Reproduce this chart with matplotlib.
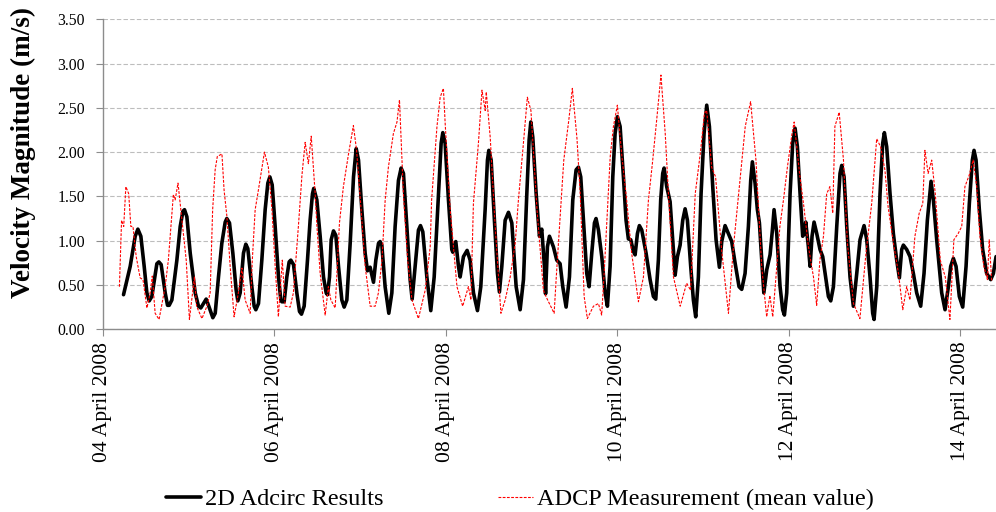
import numpy as np
import matplotlib
matplotlib.use('Agg')
import matplotlib.pyplot as plt
import matplotlib.dates as mdates

plt.rcParams['font.family'] = ['Liberation Serif', 'DejaVu Serif']

# Start of record
t0 = np.datetime64('2008-04-04T00:00')

# 2D Adcirc results: hours after t0, velocity (m/s)
adcirc_h = [5.75, 7.62, 9.01, 9.76, 10.60, 11.53, 12.28, 12.93, 13.68, 15.08, 15.64, 16.29, 17.41,
            18.06, 18.53, 19.28, 20.68, 21.61, 22.36, 22.82, 23.48, 24.41, 25.81, 26.74, 27.39,
            28.14, 28.89, 29.54, 30.75, 31.41, 32.34, 33.27, 34.21, 34.67, 35.42, 36.35, 37.28,
            37.75, 38.40, 39.34, 39.99, 40.55, 41.67, 42.32, 42.79, 43.54, 44.47, 45.40, 46.15,
            46.71, 47.36, 48.20, 49.13, 49.79, 50.07, 50.72, 51.47, 52.12, 52.59, 53.33, 54.27,
            55.01, 55.57, 56.32, 57.25, 57.99, 58.65, 59.00, 59.87, 60.80, 61.73, 62.48, 62.85,
            63.41, 63.88, 64.53, 65.18, 65.93, 66.86, 67.52, 68.26, 69.20, 70.13, 70.88, 71.53,
            72.46, 73.39, 74.05, 74.79, 75.73, 76.38, 77.13, 77.59, 78.06, 78.99, 80.02, 80.86,
            81.79, 82.72, 83.47, 84.12, 85.06, 85.99, 86.55, 87.39, 88.32, 88.88, 89.54, 90.66,
            91.77, 92.71, 93.92, 94.67, 95.13, 95.79, 96.72, 97.65, 97.93, 98.77, 99.52, 99.98,
            100.92, 101.94, 102.78, 103.72, 104.84, 105.77, 106.98, 107.64, 108.01, 108.66,
            109.59, 110.43, 110.99, 111.65, 112.58, 113.51, 114.45, 115.66, 116.78, 117.71,
            118.65, 119.30, 119.76, 120.32, 121.26, 122.19, 122.84, 123.59, 123.90, 124.42,
            124.98, 126.10, 127.04, 127.97, 128.71, 129.65, 130.58, 131.51, 132.45, 133.10,
            133.75, 134.50, 135.43, 136.09, 136.83, 137.58, 138.04, 138.70, 139.63, 140.56,
            141.22, 141.96, 142.71, 143.36, 144.02, 144.76, 145.70, 146.44, 147.09, 147.75,
            148.49, 148.96, 149.61, 150.17, 150.83, 152.04, 153.16, 154.09, 154.75, 155.49,
            156.14, 156.70, 157.08, 157.82, 158.76, 159.41, 160.16, 160.81, 161.56, 162.30,
            162.96, 163.61, 164.54, 165.29, 165.94, 166.69, 167.43, 168.27, 169.02, 169.77,
            170.70, 171.63, 172.57, 173.22, 174.15, 175.08, 176.02, 176.95, 178.07, 178.81,
            179.75, 180.68, 181.34, 181.80, 182.55, 183.20, 183.76, 184.41, 185.00, 185.82,
            186.75, 187.40, 187.87, 188.62, 189.55, 190.29, 190.76, 191.41, 192.35, 193.09,
            193.75, 194.40, 195.15, 195.89, 196.36, 196.73, 197.48, 197.95, 198.50, 199.06,
            199.81, 200.74, 201.49, 202.42, 203.08, 203.73, 204.48, 205.41, 206.34, 206.81,
            207.46, 208.21, 209.14, 210.07, 211.01, 211.94, 213.06, 213.81, 214.74, 215.49,
            215.86, 216.61, 217.54, 218.28, 218.75, 219.40, 220.34, 221.27, 222.20, 222.95,
            223.60, 224.07, 225.00, 225.94, 226.87, 227.80, 228.92, 229.85, 230.79, 231.81,
            232.47, 233.40, 234.80, 235.73, 236.66, 237.32, 238.06, 238.81, 239.74, 240.68,
            241.61, 242.54, 243.38, 243.85, 244.41, 245.34, 246.27, 247.39, 248.51, 249.26,
            250.01]
adcirc_v = [0.39, 0.71, 1.05, 1.13, 1.05, 0.71, 0.41, 0.32, 0.37, 0.74, 0.76, 0.73, 0.41,
            0.27, 0.27, 0.33, 0.78, 1.16, 1.33, 1.35, 1.27, 0.86, 0.41, 0.26, 0.24,
            0.29, 0.34, 0.27, 0.13, 0.18, 0.59, 0.97, 1.21, 1.25, 1.20, 0.86, 0.44,
            0.32, 0.41, 0.86, 0.96, 0.91, 0.48, 0.26, 0.22, 0.29, 0.78, 1.35, 1.65,
            1.72, 1.63, 1.16, 0.59, 0.33, 0.31, 0.31, 0.59, 0.76, 0.78, 0.73, 0.41,
            0.20, 0.17, 0.26, 0.78, 1.23, 1.53, 1.59, 1.46, 1.05, 0.59, 0.41, 0.39,
            0.59, 1.01, 1.11, 1.06, 0.71, 0.33, 0.25, 0.33, 0.97, 1.72, 2.04, 1.91,
            1.35, 0.86, 0.66, 0.70, 0.53, 0.78, 0.97, 0.99, 0.95, 0.48, 0.18, 0.41,
            1.16, 1.68, 1.82, 1.76, 1.16, 0.56, 0.34, 0.71, 1.12, 1.17, 1.10, 0.59,
            0.21, 0.59, 1.53, 2.10, 2.22, 2.10, 1.46, 0.90, 0.87, 0.99, 0.71, 0.59,
            0.82, 0.89, 0.78, 0.41, 0.21, 0.48, 1.35, 1.91, 2.02, 1.91,
            1.23, 0.63, 0.42, 0.71, 1.23, 1.32, 1.20, 0.48, 0.22, 0.56,
            1.53, 2.14, 2.34, 2.17, 1.53, 1.05, 1.13, 0.71, 0.40, 0.93,
            1.05, 0.93, 0.78, 0.74, 0.48, 0.25, 0.59, 1.46, 1.80, 1.83,
            1.72, 1.23, 0.63, 0.48, 0.86, 1.20, 1.25, 1.12, 0.82, 0.41,
            0.26, 0.71, 1.72, 2.21, 2.40, 2.29, 1.72, 1.23, 1.02, 1.01,
            0.88, 0.84, 1.08, 1.17, 1.12, 0.86, 0.56, 0.37, 0.34, 0.78,
            1.46, 1.76, 1.82, 1.61, 1.44, 1.05, 0.61, 0.82, 0.95, 1.23,
            1.36, 1.23, 0.71, 0.33, 0.14, 0.59, 1.53, 2.21, 2.53, 2.29,
            1.61, 1.01, 0.70, 0.99, 1.17, 1.08, 0.99, 0.75, 0.48, 0.45,
            0.63, 1.16, 1.68, 1.89, 1.65, 1.35, 1.20, 0.78, 0.41, 0.67,
            0.84, 1.12, 1.35, 1.08, 0.48, 0.22, 0.16, 0.41, 1.53, 2.10,
            2.27, 2.06, 1.53, 1.05, 1.08, 1.21, 0.93, 0.71, 1.05, 1.21,
            1.08, 0.90, 0.82, 0.56, 0.37, 0.32, 0.48, 1.16, 1.76, 1.85,
            1.72, 1.16, 0.59, 0.26, 0.63, 1.01, 1.17, 1.01, 0.59, 0.18,
            0.11, 0.48, 1.53, 2.10, 2.22, 2.06, 1.53, 1.08, 0.78, 0.58,
            0.90, 0.95, 0.90, 0.82, 0.63, 0.41, 0.26, 0.63, 1.23, 1.67,
            1.46, 1.01, 0.41, 0.22, 0.48, 0.71, 0.80, 0.71, 0.37, 0.25,
            0.71, 1.42, 1.91, 2.02, 1.91, 1.35, 0.90, 0.63, 0.56, 0.63,
            0.82]

# ADCP measurement (mean value)
adcp_h = [4.6, 5.2, 5.8, 6.4, 7.2, 7.8, 8.4, 9.3, 10.4, 11.2, 12.3, 13.2, 13.8, 14.6, 15.7,
          17.4, 18.3, 19.7, 20.2, 21.0, 21.9, 23.3, 24.2, 25.6, 26.2, 27.7, 29.1, 30.0, 30.7,
          31.4, 32.0, 33.3, 33.9, 34.7, 35.6, 36.7, 37.9, 38.9, 39.8, 41.2, 41.8, 42.6, 43.5,
          45.2, 46.3, 47.3, 48.2, 49.1, 50.2, 51.0, 52.4, 53.3, 54.7, 55.7, 56.6, 57.5, 58.3,
          59.4, 59.9, 60.8, 62.2, 63.1, 63.8, 65.0, 66.2, 67.3, 68.7, 70.1, 71.0, 72.2, 73.4,
          74.8, 76.2, 77.1, 78.1, 79.0, 79.9, 81.3, 82.3, 83.0, 84.1, 85.3, 86.5, 88.3, 90.2,
          91.6, 92.0, 93.5, 94.4, 95.3, 95.8, 97.2, 99.1, 100.7, 102.3, 103.0, 103.7, 105.1,
          106.1, 107.0, 107.3, 108.4, 109.8, 111.4, 112.6, 114.0, 115.4, 116.3, 117.7, 118.8,
          119.8, 121.5, 122.0, 123.3, 124.0, 126.3, 126.9, 129.0, 130.4, 131.4, 132.7, 133.6,
          134.7, 135.6, 137.3, 138.7, 139.6, 140.3, 142.0, 142.9, 144.0, 145.2, 146.6, 148.0,
          149.9, 151.3, 152.7, 153.8, 155.0, 156.2, 157.4, 158.3, 159.7, 161.6, 163.4, 164.5,
          165.8, 167.2, 168.4, 169.0, 170.4, 171.5, 173.2, 175.1, 176.5, 178.4, 179.8, 181.3,
          182.8, 184.4, 185.8, 186.7, 187.5, 188.4, 189.5, 190.5, 191.6, 192.9, 193.5, 195.0,
          196.1, 197.5, 198.9, 199.8, 200.7, 201.7, 202.6, 203.5, 204.3, 204.9, 206.1, 207.3,
          208.4, 210.1, 211.9, 213.6, 215.2, 216.6, 217.7, 218.9, 219.8, 221.3, 222.7, 223.9,
          225.0, 225.9, 227.3, 228.5, 229.5, 230.1, 231.0, 232.0, 233.0, 234.4, 235.8, 237.1,
          238.2, 239.4, 240.4, 241.3, 242.5, 243.6, 244.6, 245.5, 246.6, 247.6, 248.1, 248.8]
adcp_v = [0.48, 1.23, 1.16, 1.61, 1.53, 1.16, 1.16, 0.82, 0.58, 0.56, 0.24, 0.41, 0.60, 0.18, 0.11,
          0.48, 0.78, 1.52, 1.46, 1.65, 1.31, 0.78, 0.11, 0.59, 0.26, 0.12, 0.26, 0.41, 1.35,
          1.80, 1.95, 1.98, 1.57, 1.27, 0.71, 0.14, 0.41, 0.69, 0.33, 0.18, 0.78, 1.35, 1.57,
          2.00, 1.83, 1.35, 0.71, 0.14, 0.78, 0.26, 0.25, 0.41, 1.16, 1.74, 2.11, 1.87, 2.18,
          1.53, 1.16, 0.63, 0.16, 0.48, 0.33, 0.24, 1.20, 1.61, 1.97, 2.30, 2.02, 1.38, 0.71,
          0.26, 0.26, 0.41, 0.78, 1.46, 1.83, 2.21, 2.34, 2.59, 1.53, 0.78, 0.33, 0.12, 0.44,
          0.93, 1.46, 2.29, 2.62, 2.72, 2.32, 1.35, 0.48, 0.26, 0.48, 0.33, 1.42, 2.10,
          2.70, 2.47, 2.68, 2.17, 1.16, 0.18, 0.33, 0.59, 0.97, 1.46, 2.10, 2.62,
          2.47, 1.35, 1.10, 0.44, 0.37, 0.18, 0.59, 1.91, 2.36, 2.72, 2.15, 1.53,
          0.37, 0.12, 0.26, 0.29, 0.16, 0.63, 1.95, 2.29, 2.53, 1.98, 1.46, 0.86,
          0.31, 0.59, 1.46, 1.87, 2.36, 2.87, 2.21, 1.53, 0.59, 0.26, 0.52, 0.44,
          1.53, 1.98, 2.44, 2.47, 1.83, 1.72, 0.89, 0.18, 0.93, 1.72, 2.29, 2.57,
          1.91, 0.71, 0.14, 0.38, 0.14, 0.59, 1.16, 1.46, 1.83, 2.21, 2.34, 1.76,
          1.42, 0.93, 0.59, 0.27, 0.78, 1.05, 1.53, 1.61, 1.31, 2.29, 2.45, 1.91,
          0.97, 0.29, 0.12, 0.86, 1.42, 2.15, 2.06, 1.80, 1.38, 0.97, 0.63, 0.22,
          0.48, 0.33, 1.05, 1.31, 1.42, 2.02, 1.76, 1.91, 1.53, 0.78, 0.59, 0.11,
          1.01, 1.08, 1.16, 1.61, 1.74, 1.91, 1.61, 1.05, 0.71, 0.56, 1.01, 0.54]

def to_time(hours):
    return t0 + (np.array(hours) * 60).round().astype('timedelta64[m]')

fig = plt.figure(figsize=(9.96, 5.12), dpi=100)
ax = fig.add_axes([0.1034, 0.357, 0.8966, 0.6053])

ax.plot(to_time(adcirc_h), adcirc_v, color='black', lw=2.6, solid_joinstyle='round',
        solid_capstyle='round', label='2D Adcirc Results', zorder=3)
ax.plot(to_time(adcp_h), adcp_v, color='red', lw=0.8, dashes=(2.5, 1.3),
        label='ADCP Measurement (mean value)', zorder=4)

ax.set_ylim(0, 3.5)
ax.set_yticks(np.arange(0, 3.51, 0.5))
ax.yaxis.set_major_formatter(matplotlib.ticker.FormatStrFormatter('%.2f'))
ax.set_xlim(t0, t0 + np.timedelta64(250, 'h'))
ax.set_xticks(np.arange(t0, t0 + np.timedelta64(11, 'D'), np.timedelta64(2, 'D')))
ax.xaxis.set_major_formatter(mdates.DateFormatter('%d April %Y'))

ax.grid(axis='y', color='#bdbdbd', linestyle=(0, (4, 2)), lw=0.8)
ax.set_axisbelow(True)
for side in ['top', 'right']:
    ax.spines[side].set_visible(False)
for side in ['left', 'bottom']:
    ax.spines[side].set_color('#8c8c8c')
    ax.spines[side].set_linewidth(1.0)

ax.tick_params(axis='x', labelsize=15.5, rotation=90, length=5, color='#8c8c8c', pad=4)
ax.tick_params(axis='y', labelsize=11.3, length=5, color='#8c8c8c', pad=8)

fig.text(23 / 996, 0.702, 'Velocity Magnitude (m/s)', rotation=90, ha='center', va='center',
         fontsize=19.5, fontweight='bold')

fig.legend(loc='center left', bbox_to_anchor=(166 / 996, 13 / 512), ncol=2, frameon=False,
           fontsize=17.5, handlelength=1.45, handletextpad=0.15, columnspacing=4.7,
           borderpad=0, borderaxespad=0)

fig.savefig('out.png', dpi=100)
